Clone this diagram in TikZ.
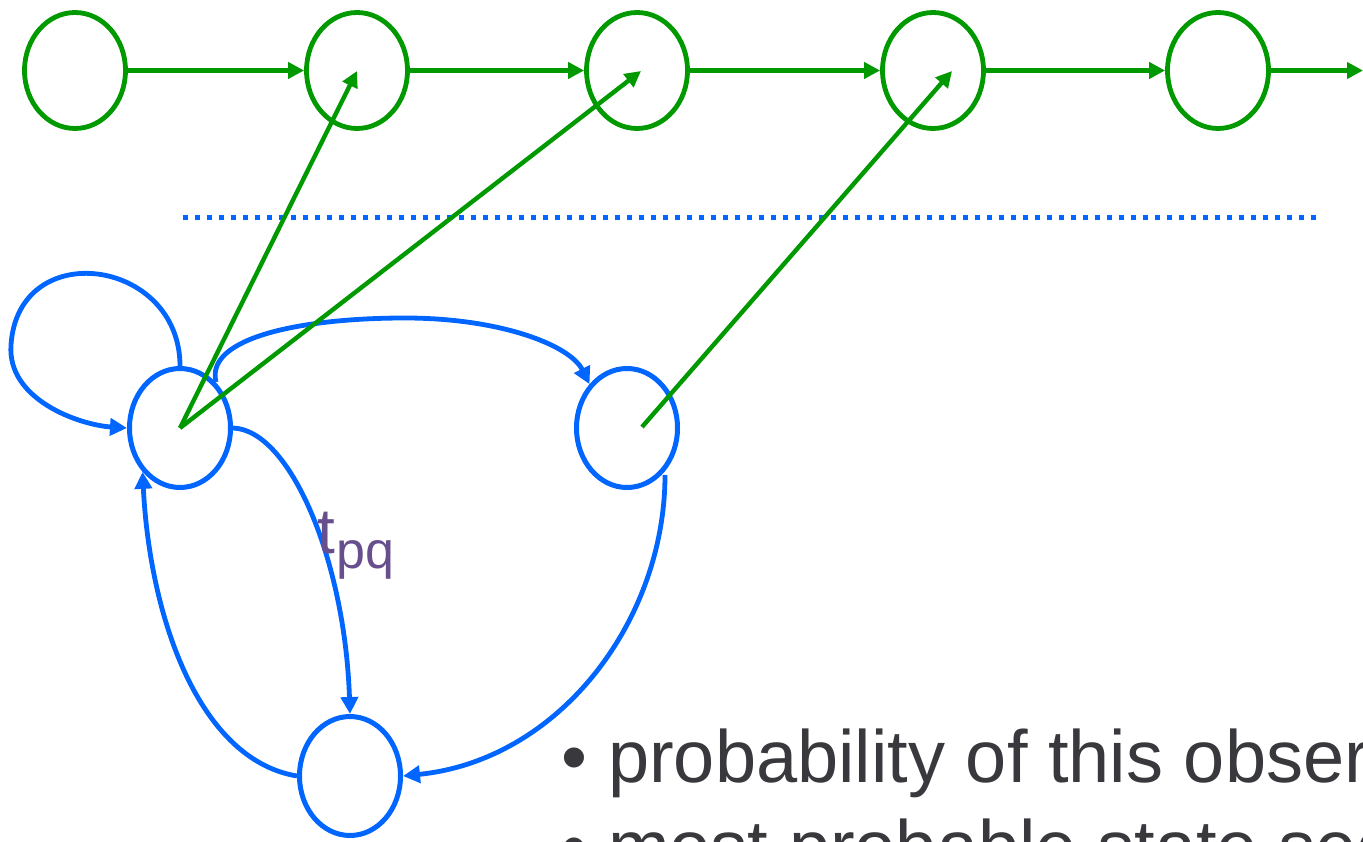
\documentclass[tikz,border=0pt]{standalone}
\usepackage{fontspec}
\setmainfont{Liberation Sans}
\usetikzlibrary{shapes.geometric,arrows.meta}
\definecolor{hmmgreen}{RGB}{0,153,0}
\definecolor{hmmblue}{RGB}{0,102,255}
\definecolor{txtgray}{RGB}{56,56,61}
\definecolor{lblpurple}{RGB}{102,79,140}
\tikzset{
  gstate/.style={ellipse,draw=hmmgreen,line width=4.8pt,inner sep=0pt,minimum width=101pt,minimum height=116pt},
  bstate/.style={ellipse,draw=hmmblue,line width=5pt,inner sep=0pt,minimum width=101pt,minimum height=119pt},
  garrow/.style={draw=hmmgreen,line width=4.4pt,-{Triangle[length=16pt,width=16pt]}},
  barrow/.style={draw=hmmblue,line width=4.8pt,-{Triangle[length=17pt,width=17pt]}},
  bodytext/.style={text=txtgray,inner sep=0pt,font=\fontsize{74}{89}\selectfont}
}
\begin{document}
\begin{tikzpicture}[x=1pt,y=-1pt]
\useasboundingbox (0,0) rectangle (1363,842);
\clip (0,0) rectangle (1363,842);
% top chain
\node[gstate] (g1) at (75,70.5) {};
\node[gstate] (g2) at (357,70.5) {};
\node[gstate] (g3) at (637,70.5) {};
\node[gstate] (g4) at (933,70.5) {};
\node[gstate] (g5) at (1218,70.5) {};
\coordinate (gend) at (1363,70.5);
\draw[garrow] (g1) -- (g2);
\draw[garrow] (g2) -- (g3);
\draw[garrow] (g3) -- (g4);
\draw[garrow] (g4) -- (g5);
\draw[garrow] (g5) -- (gend);
% dotted separator
\draw[hmmblue,line width=5pt,dash pattern=on 5pt off 7pt] (183,218) -- (1318,218);
% bottom states
\node[bstate] (A) at (180,428) {};
\node[bstate] (B) at (627,428) {};
\node[bstate] (C) at (350,776) {};
% blue transitions
\draw[barrow] (A.north) .. controls (180,258) and (18,236) .. (11,345)
  .. controls (7,400) and (80,425) .. (A.west);
\draw[barrow] (216,382) .. controls (205,338) and (300,318) .. (405,318)
  .. controls (500,318) and (570,345) .. (B.north west);
\draw[barrow] (A.east) .. controls (290,430) and (345,560) .. (C.north);
\draw[barrow] (665,475) .. controls (665,620) and (560,760) .. (C.east);
\draw[barrow] (C.west) .. controls (200,760) and (150,620) .. (A.south west);
% emission arrows
\coordinate (e1) at (357,71);
\coordinate (e2) at (641,71);
\coordinate (e3) at (952,71);
\coordinate (sB) at (642,427);
\draw[garrow] (A.center) -- (e1);
\draw[garrow] (A.center) -- (e2);
\draw[garrow] (sB) -- (e3);
% label
\node[anchor=base west,inner sep=0pt,text=lblpurple,font=\fontsize{64}{70}\selectfont] (tl) at (317,553) {t};
\node[anchor=base west,inner sep=0pt,text=lblpurple,font=\fontsize{52}{60}\selectfont] (pql) at (336,568) {pq};
% text
\node[bodytext,anchor=base west] (b1) at (561,782) {•};
\node[bodytext,anchor=base west] (t1) at (608,782) {probability of this observation};
\node[bodytext,anchor=base west] (b2) at (561,872) {•};
\node[bodytext,anchor=base west] (t2) at (608,872) {most probable state sequence};
\end{tikzpicture}
\end{document}
